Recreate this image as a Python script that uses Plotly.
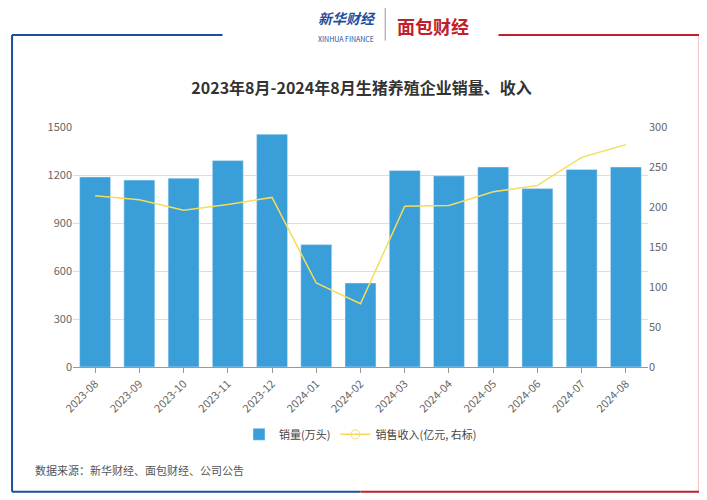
import plotly.graph_objects as go

months = ["2023-08","2023-09","2023-10","2023-11","2023-12","2024-01","2024-02",
          "2024-03","2024-04","2024-05","2024-06","2024-07","2024-08"]
volume = [1188,1168,1180,1290,1455,765,525,1228,1195,1250,1115,1235,1250]
revenue = [214,209,196,203,212,105,79,201,202,219,227,262,278]

fig = go.Figure()
fig.add_trace(go.Bar(x=months, y=volume, name="销量(万头)", marker_color="#3a9fd9", width=0.7))
fig.add_trace(go.Scatter(x=months, y=revenue, yaxis="y2", mode="lines", showlegend=False,
                         line=dict(color="#f5dc5a", width=1.5)))
fig.add_trace(go.Scatter(x=[None], y=[None], yaxis="y2", name="销售收入(亿元, 右标)", mode="lines+markers",
                         line=dict(color="#f5dc5a", width=1.5),
                         marker=dict(symbol="circle-open", size=9, color="#f5dc5a")))
font = "Noto Sans CJK SC"
blue, red = "#1f4e9c", "#c0202a"
L, R, B, T = -0.106, 1.09, -0.52, 1.383
fig.update_layout(
    width=707, height=500, margin=dict(l=65, r=67, t=119, b=141),
    paper_bgcolor="white", plot_bgcolor="white",
    font=dict(family=font, color="#666", size=11),
    title=dict(text="<b>2023年8月-2024年8月生猪养殖企业销量、收入</b>", x=0.5, y=0.85,
               xanchor="center", font=dict(size=16, color="#333")),
    xaxis=dict(type="category", tickangle=-45, showline=True, linecolor="#999", ticks="outside", tickcolor="#999"),
    yaxis=dict(range=[0,1500], tickvals=[0,300,600,900,1200,1500], gridcolor="#ddd", zeroline=False),
    yaxis2=dict(range=[0,300], tickvals=[0,50,100,150,200,250,300], overlaying="y", side="right",
                showgrid=False, zeroline=False),
    legend=dict(orientation="h", x=0.5, xanchor="center", y=-0.22, yanchor="top", font=dict(size=11, color="#444")),
    shapes=[
        dict(type="line", xref="paper", yref="paper", x0=L, x1=L, y0=B, y1=T, line=dict(color=blue, width=2)),
        dict(type="line", xref="paper", yref="paper", x0=L, x1=0.26, y0=T, y1=T, line=dict(color=blue, width=2)),
        dict(type="line", xref="paper", yref="paper", x0=L, x1=0.5, y0=B, y1=B, line=dict(color=blue, width=2)),
        dict(type="line", xref="paper", yref="paper", x0=0.5, x1=R, y0=B, y1=B, line=dict(color=red, width=2)),
        dict(type="line", xref="paper", yref="paper", x0=0.74, x1=R, y0=T, y1=T, line=dict(color=red, width=2)),
        dict(type="line", xref="paper", yref="paper", x0=R, x1=R, y0=B, y1=T, line=dict(color=red, width=2)),
        dict(type="line", xref="paper", yref="paper", x0=0.543, x1=0.543, y0=1.36, y1=1.50, line=dict(color="#999", width=1)),
    ],
    annotations=[
        dict(text="<b><i>新华财经</i></b><br><span style='font-size:7px'>XINHUA FINANCE</span>", xref="paper", yref="paper",
             x=0.53, y=1.42, xanchor="right", yanchor="middle", showarrow=False, font=dict(size=14, color=blue)),
        dict(text="<b>面包财经</b>", xref="paper", yref="paper", x=0.56, y=1.42, xanchor="left", yanchor="middle",
             showarrow=False, font=dict(size=18, color=red)),
        dict(text="数据来源：新华财经、面包财经、公司公告", xref="paper", yref="paper", x=-0.07, y=-0.43,
             xanchor="left", yanchor="middle", showarrow=False, font=dict(size=11, color="#555")),
    ],
)
fig.write_html("out.html")
